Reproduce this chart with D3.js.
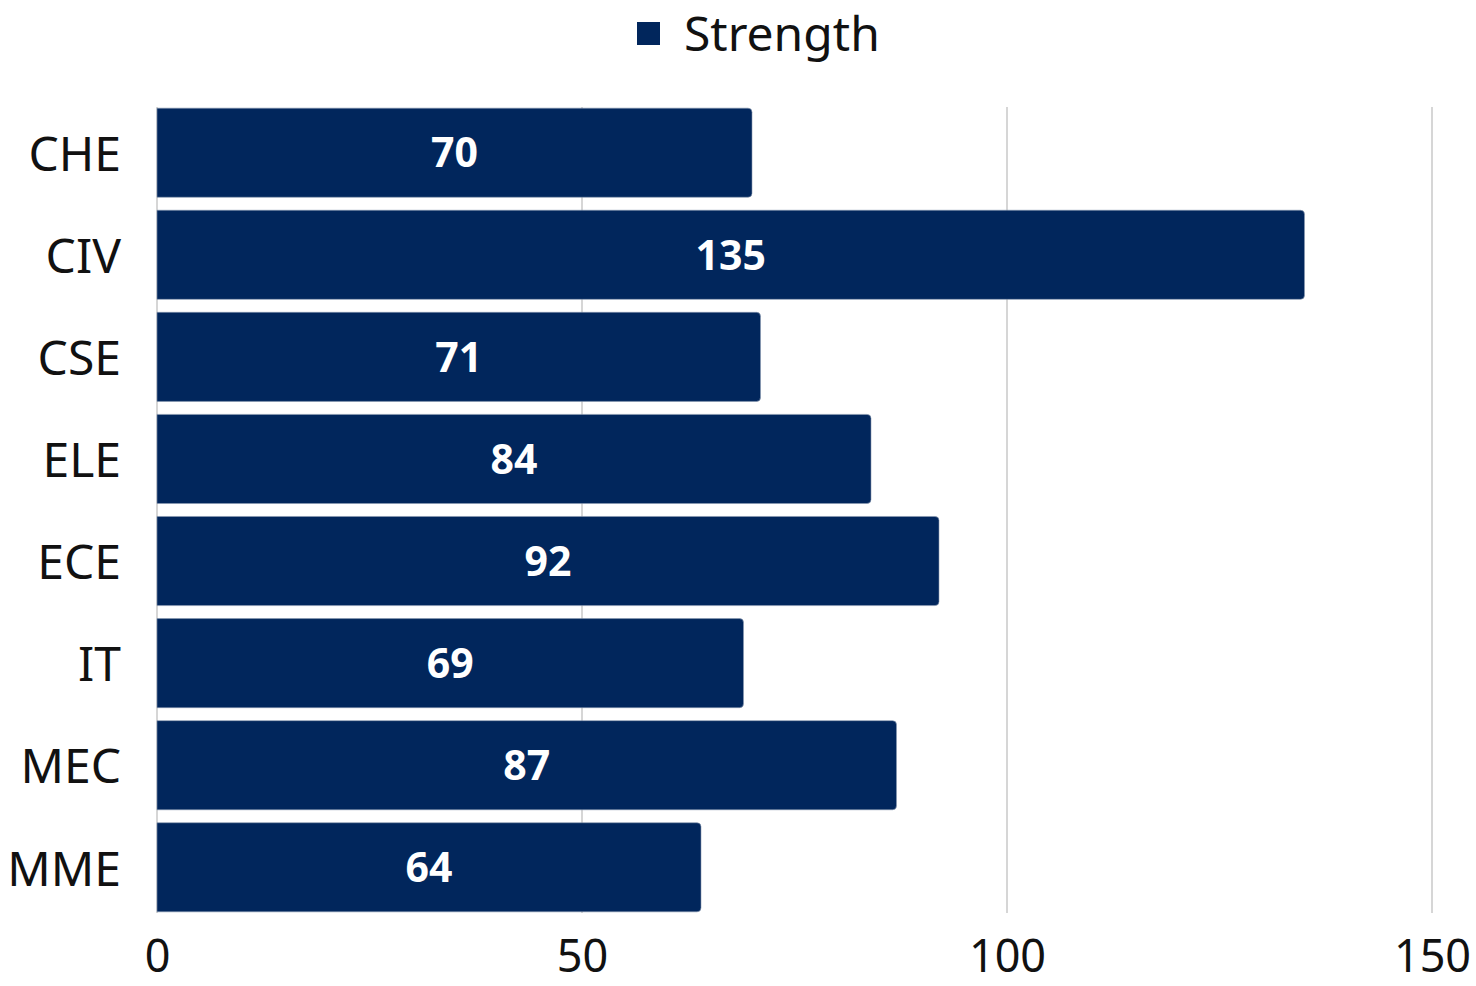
<!DOCTYPE html>
<html>
<head>
<meta charset="utf-8">
<script src="https://cdn.jsdelivr.net/npm/d3@7"></script>
<style>
  body { margin: 0; background: #fff; }
  text { font-family: "Noto Sans", "Open Sans", sans-serif; }
</style>
</head>
<body>
<div id="grafico"></div>
<script>
// Datos del grafico
const departamentos = ["CHE", "CIV", "CSE", "ELE", "ECE", "IT", "MEC", "MME"];
const fuerza = [70, 135, 71, 84, 92, 69, 87, 64];
const ticksX = [0, 50, 100, 150];
const nombreSerie = "Strength";

const ancho = 1476, alto = 986;
const margen = { top: 102, right: 44, bottom: 68, left: 157 };
const colorBarra = "#01265c";

const svg = d3.select("#grafico")
  .append("svg")
  .attr("width", ancho)
  .attr("height", alto);

const x = d3.scaleLinear()
  .domain([0, 150])
  .range([margen.left, ancho - margen.right]);

const y = d3.scaleBand()
  .domain(departamentos)
  .range([margen.top, alto - margen.bottom])
  .paddingInner(0.127)
  .paddingOuter(0.06);

// Lineas de la cuadricula
svg.append("g")
  .selectAll("line")
  .data(ticksX)
  .join("line")
  .attr("x1", d => x(d))
  .attr("x2", d => x(d))
  .attr("y1", y.range()[0] + 5)
  .attr("y2", y.range()[1] - 5)
  .attr("stroke", "#c8c8c8")
  .attr("stroke-width", 1.5);

// Barras (esquinas redondeadas a la derecha)
const r = 4;
svg.append("g")
  .selectAll("path")
  .data(departamentos)
  .join("path")
  .attr("d", (d, i) => {
    const x0 = x(0), x1 = x(fuerza[i]);
    const y0 = y(d), h = y.bandwidth();
    return `M${x0},${y0} H${x1 - r} Q${x1},${y0} ${x1},${y0 + r} V${y0 + h - r} Q${x1},${y0 + h} ${x1 - r},${y0 + h} H${x0} Z`;
  })
  .attr("fill", colorBarra)
  .attr("stroke", "#8a98b0")
  .attr("stroke-width", 0.6);

// Etiquetas de valores
svg.append("g")
  .selectAll("text")
  .data(departamentos)
  .join("text")
  .attr("x", (d, i) => x(fuerza[i] / 2))
  .attr("y", d => y(d) + y.bandwidth() / 2)
  .attr("dy", "0.36em")
  .attr("text-anchor", "middle")
  .attr("fill", "#ffffff")
  .attr("font-size", 41)
  .attr("font-weight", "bold")
  .text((d, i) => fuerza[i]);

// Eje Y
const ejeY = svg.append("g")
  .attr("transform", `translate(${margen.left},0)`)
  .call(d3.axisLeft(y).tickSize(0).tickPadding(36));
ejeY.select(".domain").remove();
ejeY.selectAll("text")
  .attr("font-size", 48)
  .attr("dy", "0.38em")
  .attr("fill", "#111")
  .style("font-family", "'Noto Sans', sans-serif");

// Eje X
const ejeX = svg.append("g")
  .attr("transform", `translate(0,${alto - margen.bottom})`)
  .call(d3.axisBottom(x).tickValues(ticksX).tickSize(0).tickPadding(22));
ejeX.select(".domain").remove();
ejeX.selectAll("text")
  .attr("font-size", 45)
  .attr("fill", "#111")
  .style("font-family", "'Noto Sans', sans-serif");

// Leyenda
const leyenda = svg.append("g").attr("transform", "translate(637,22)");
leyenda.append("rect")
  .attr("width", 23)
  .attr("height", 23)
  .attr("fill", colorBarra);
leyenda.append("text")
  .attr("x", 47)
  .attr("y", 12)
  .attr("dy", "0.36em")
  .attr("font-size", 48)
  .attr("fill", "#111")
  .text(nombreSerie);
</script>
</body>
</html>
